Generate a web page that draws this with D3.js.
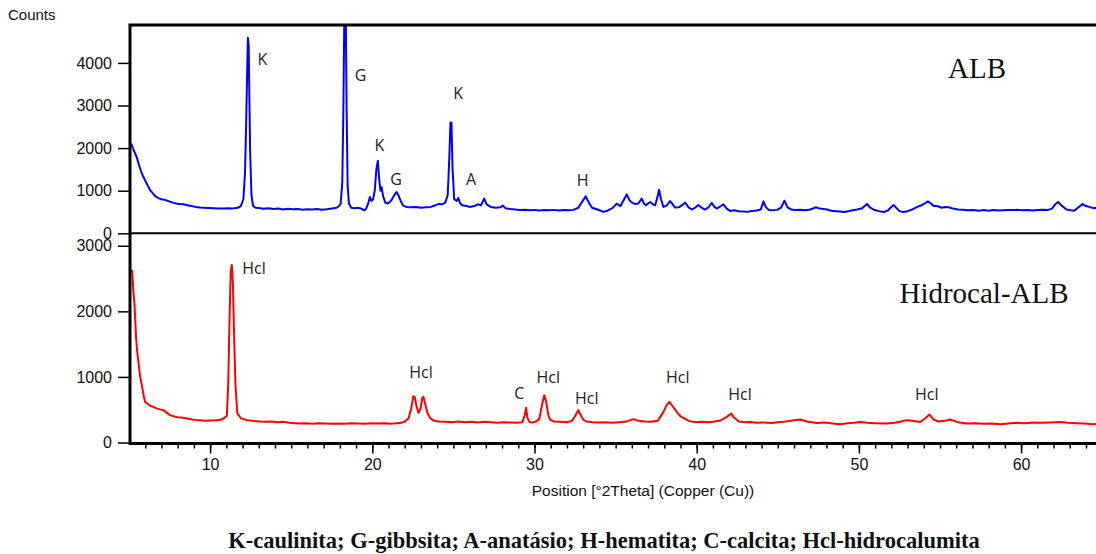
<!DOCTYPE html>
<html>
<head>
<meta charset="utf-8">
<script src="https://cdn.jsdelivr.net/npm/d3@7"></script>
<style>
  body { margin: 0; background: #fff; }
  svg { display: block; }
</style>
</head>
<body>
<svg id="chart"></svg>
<script>
// 2Theta / counts
const albPoints = [
  [5.00,2130],[5.08,2060],[5.15,2090],[5.25,1990],[5.35,1900],[5.48,1780],[5.6,1620],[5.75,1450],[5.89,1320],
  [6.05,1200],[6.2,1090],[6.3,1010],[6.45,950],[6.6,880],[6.71,850],[6.85,820],[7.0,800],[7.15,790],[7.33,770],
  [7.5,745],[7.7,720],[7.9,700],[8.1,690],[8.35,680],[8.6,660],[8.85,640],[9.1,620],[9.38,605],[9.6,600],
  [9.9,595],[10.2,590],[10.5,585],[10.8,580],[11.1,590],[11.42,585],[11.7,600],[11.9,640],[12.05,800],
  [12.15,1400],[12.22,2500],[12.28,3700],[12.33,4590],[12.38,4400],[12.42,3200],[12.47,1900],[12.55,900],
  [12.65,640],[12.8,600],[13.0,595],[13.3,575],[13.6,590],[13.9,570],[14.2,580],[14.5,560],[14.8,575],
  [15.1,565],[15.4,570],[15.7,555],[16.0,565],[16.3,560],[16.6,570],[16.9,555],[17.2,565],[17.5,580],
  [17.8,600],[17.95,640],[18.05,700],[18.15,1200],[18.22,3000],[18.28,5300],[18.36,5300],[18.42,2800],
  [18.48,1100],[18.56,700],[18.7,600],[18.9,590],[19.1,600],[19.3,585],[19.5,540],[19.6,560],[19.75,700],
  [19.85,850],[19.95,760],[20.05,800],[20.15,1000],[20.25,1500],[20.34,1705],[20.42,1300],[20.5,1000],
  [20.58,1080],[20.66,880],[20.8,720],[20.95,700],[21.1,740],[21.25,820],[21.4,920],[21.5,970],[21.6,900],
  [21.75,760],[21.9,650],[22.1,620],[22.4,610],[22.7,620],[23.0,600],[23.3,610],[23.6,620],[23.9,660],
  [24.1,690],[24.3,680],[24.5,720],[24.65,900],[24.75,1800],[24.82,2600],[24.88,2600],[24.95,1500],
  [25.05,800],[25.2,760],[25.3,830],[25.42,700],[25.6,650],[25.8,640],[26.0,620],[26.3,640],[26.5,680],
  [26.7,660],[26.9,814],[27.05,680],[27.3,620],[27.6,600],[27.9,610],[28.05,650],[28.2,590],[28.5,570],
  [28.8,560],[29.1,545],[29.4,555],[29.7,540],[30.0,550],[30.3,535],[30.6,545],[30.9,540],[31.2,550],
  [31.5,535],[31.8,545],[32.1,540],[32.4,550],[32.7,600],[32.95,750],[33.16,867],[33.35,720],[33.55,600],
  [33.8,570],[34.0,540],[34.25,503],[34.5,530],[34.8,590],[35.07,697],[35.3,640],[35.5,780],[35.69,914],
  [35.85,780],[36.0,721],[36.2,690],[36.4,700],[36.61,814],[36.75,700],[36.88,658],[37.0,700],[37.13,735],
  [37.3,680],[37.44,658],[37.58,850],[37.68,1023],[37.8,800],[37.95,619],[38.15,650],[38.36,758],[38.5,690],
  [38.67,604],[38.9,610],[39.1,660],[39.29,721],[39.5,610],[39.7,558],[39.9,600],[40.1,665],[40.3,600],
  [40.5,558],[40.7,600],[40.93,712],[41.1,620],[41.24,581],[41.45,630],[41.65,681],[41.85,580],[42.06,526],
  [42.3,540],[42.6,520],[42.9,510],[43.1,503],[43.4,525],[43.7,535],[43.95,560],[44.12,750],[44.25,620],
  [44.45,545],[44.7,540],[44.95,550],[45.2,600],[45.41,766],[45.6,610],[45.82,560],[46.1,545],[46.4,555],
  [46.7,540],[47.0,560],[47.34,610],[47.6,580],[47.8,570],[48.04,560],[48.3,530],[48.6,520],[48.85,510],
  [49.09,500],[49.35,520],[49.6,540],[49.9,560],[50.2,590],[50.5,690],[50.7,600],[50.97,545],[51.25,520],
  [51.55,500],[51.8,540],[51.95,600],[52.14,665],[52.35,580],[52.5,520],[52.73,500],[53.0,520],[53.3,560],
  [53.6,620],[53.9,665],[54.05,700],[54.25,750],[54.45,700],[54.6,640],[54.82,640],[55.1,600],[55.3,615],
  [55.54,610],[55.8,580],[56.1,560],[56.4,555],[56.7,540],[57.0,545],[57.41,530],[57.7,545],[58.0,530],
  [58.3,545],[58.6,535],[58.9,540],[59.2,545],[59.5,545],[59.8,550],[60.1,540],[60.4,545],[60.7,535],
  [61.0,545],[61.3,550],[61.63,545],[61.9,580],[62.1,680],[62.28,735],[62.5,650],[62.8,560],[63.05,540],
  [63.27,530],[63.5,600],[63.79,685],[64.0,640],[64.2,620],[64.44,590],[64.7,600],[65.0,590]
];

// 2Theta / counts
const hidrocalPoints = [
  [5.05,2600],[5.12,2620],[5.2,2615],[5.27,2300],[5.33,2147],[5.4,1800],[5.44,1588],[5.5,1400],[5.58,1231],
  [5.68,1020],[5.79,875],[5.9,720],[5.99,620],[6.15,590],[6.3,560],[6.5,544],[6.7,520],[6.9,505],[7.12,493],
  [7.3,460],[7.53,417],[7.75,400],[8.0,385],[8.35,376],[8.6,365],[8.9,350],[9.1,345],[9.38,341],[9.7,330],
  [10.0,335],[10.41,341],[10.7,350],[10.9,380],[11.03,406],[11.12,900],[11.19,1791],[11.27,2600],[11.34,2707],
  [11.41,2400],[11.48,1638],[11.56,900],[11.68,443],[11.9,370],[12.26,341],[12.6,330],[13.0,320],[13.4,315],
  [13.8,320],[14.2,310],[14.5,315],[14.9,300],[15.2,295],[15.55,290],[15.9,295],[16.3,285],[16.7,295],
  [17.1,290],[17.5,285],[17.9,290],[18.3,285],[18.7,295],[19.1,290],[19.5,285],[19.9,295],[20.3,290],
  [20.7,295],[21.1,285],[21.5,295],[21.8,300],[22.0,320],[22.23,366],[22.4,520],[22.53,707],[22.62,690],
  [22.72,560],[22.85,452],[22.98,520],[23.08,680],[23.15,697],[23.25,600],[23.4,450],[23.56,376],[23.8,330],
  [24.1,320],[24.5,315],[24.9,310],[25.3,320],[25.7,310],[26.1,315],[26.5,305],[26.9,315],[27.3,310],
  [27.7,300],[28.1,310],[28.5,305],[28.9,300],[29.25,310],[29.4,420],[29.48,529],[29.56,380],[29.7,310],
  [29.9,305],[30.1,320],[30.3,360],[30.45,560],[30.6,722],[30.72,620],[30.85,420],[30.96,350],[31.2,320],
  [31.6,315],[32.0,310],[32.3,330],[32.5,400],[32.7,493],[32.85,420],[33.0,350],[33.2,320],[33.6,310],
  [34.0,305],[34.4,310],[34.8,300],[35.2,310],[35.6,315],[36.1,356],[36.4,330],[36.8,320],[37.2,315],
  [37.6,330],[37.95,467],[38.15,570],[38.32,620],[38.5,560],[38.77,467],[39.0,400],[39.18,376],[39.5,330],
  [39.9,310],[40.3,315],[40.7,310],[41.1,320],[41.5,340],[41.86,391],[42.12,443],[42.3,380],[42.6,320],
  [43.0,310],[43.3,311],[43.7,300],[44.1,305],[44.63,299],[45.0,310],[45.5,320],[45.9,335],[46.37,351],
  [46.8,320],[47.4,299],[47.9,305],[48.4,290],[48.84,280],[49.3,295],[49.7,300],[50.07,311],[50.5,300],
  [51.0,295],[51.72,290],[52.2,300],[52.6,320],[52.95,341],[53.3,330],[53.77,311],[54.1,370],[54.35,427],
  [54.6,350],[54.9,320],[55.3,330],[55.62,351],[56.1,310],[56.65,290],[57.2,295],[57.7,285],[58.2,290],
  [58.7,280],[59.2,290],[59.7,300],[60.2,295],[60.74,305],[61.2,300],[61.8,305],[62.4,311],[62.9,300],
  [63.4,295],[63.9,290],[64.46,280],[65.0,285]
];

// phase labels: [text, 2Theta, counts]
const albPeaks = [
  ["K",13.22,4103],["G",19.28,3712],["K",20.43,2070],["G",21.46,1274],
  ["K",25.30,3283],["A",26.09,1274],["H",32.97,1251]
];
const hidrocalPeaks = [
  ["Hcl",12.71,2655],["Hcl",23.0,1077],["C",29.06,748],["Hcl",30.85,992],
  ["Hcl",33.22,671],["Hcl",38.83,1001],["Hcl",42.67,737],["Hcl",54.18,737]
];

const topTicks = [0,1000,2000,3000,4000];
const bottomTicks = [0,1000,2000,3000];
const xTicks = [10,20,30,40,50,60];

const width = 1096, height = 554;
const left = 130;

const svg = d3.select("#chart").attr("width", width).attr("height", height)
  .style("font-family", "'Liberation Sans', Arial, sans-serif");

const x = d3.scaleLinear().domain([5, 65]).range([129, 129 + 60 * 16.22]);
const yTop = d3.scaleLinear().domain([0, 4890]).range([233.3, 25]);
const yBot = d3.scaleLinear().domain([0, 3190]).range([442.5, 233.3]);

const defs = svg.append("defs");
defs.append("clipPath").attr("id", "clipTop").append("rect")
  .attr("x", left).attr("y", yTop.range()[1]).attr("width", width - left).attr("height", yTop.range()[0] - yTop.range()[1]);
defs.append("clipPath").attr("id", "clipBot").append("rect")
  .attr("x", left).attr("y", yBot.range()[1]).attr("width", width - left).attr("height", yBot.range()[0] - yBot.range()[1]);

// patterns
svg.append("path")
  .datum(albPoints)
  .attr("clip-path", "url(#clipTop)")
  .attr("fill", "none").attr("stroke", "#0000ff").attr("stroke-width", 2)
  .attr("stroke-linejoin", "round")
  .attr("d", d3.line().x(d => x(d[0])).y(d => yTop(d[1])));

svg.append("path")
  .datum(hidrocalPoints)
  .attr("clip-path", "url(#clipBot)")
  .attr("fill", "none").attr("stroke", "#ff0000").attr("stroke-width", 2)
  .attr("stroke-linejoin", "round")
  .attr("d", d3.line().x(d => x(d[0])).y(d => yBot(d[1])));

// y axes
function styleAxis(g) {
  g.select(".domain").remove();
  g.selectAll(".tick line").attr("stroke-width", 1.5);
  g.selectAll(".tick text").attr("font-size", 16).attr("fill", "#111")
    .attr("font-family", "'Liberation Sans', Arial, sans-serif");
}
svg.append("g").attr("transform", `translate(${left},0)`)
  .call(d3.axisLeft(yTop).tickValues(topTicks).tickFormat(d3.format("d")).tickSize(12).tickPadding(6))
  .call(styleAxis);
svg.append("g").attr("transform", `translate(${left},0)`)
  .call(d3.axisLeft(yBot).tickValues(bottomTicks).tickFormat(d3.format("d")).tickSize(12).tickPadding(6))
  .call(styleAxis);

// x axis
const xAxisY = 443.5;
svg.append("g").attr("transform", `translate(0,${xAxisY})`)
  .call(d3.axisBottom(x).tickValues(d3.range(6, 65)).tickSize(5).tickFormat(""))
  .call(g => g.select(".domain").remove())
  .call(g => g.selectAll(".tick line").attr("stroke-width", 1.5));
svg.append("g").attr("transform", `translate(0,${xAxisY})`)
  .call(d3.axisBottom(x).tickValues(xTicks).tickSize(10).tickPadding(5))
  .call(styleAxis);

// frame lines
const frame = svg.append("g").attr("stroke", "#000").attr("fill", "none");
frame.append("path").attr("stroke-width", 3)
  .attr("d", `M${width},${yTop.range()[1]}H${left}V${xAxisY}H${width}`);
frame.append("line").attr("stroke-width", 2)
  .attr("x1", left).attr("x2", width).attr("y1", yTop(0)).attr("y2", yTop(0));

// axis titles
svg.append("text").attr("x", 8).attr("y", 20)
  .attr("font-size", 15).attr("fill", "#111").text("Counts");
svg.append("text").attr("x", 643).attr("y", 496).attr("text-anchor", "middle")
  .attr("font-size", 15.5).attr("fill", "#111").text("Position [°2Theta] (Copper (Cu))");

// phase labels
const peakFont = "'Open Sans', 'Noto Sans', sans-serif";
svg.append("g").selectAll("text").data(albPeaks).join("text")
  .attr("x", d => x(d[1])).attr("y", d => yTop(d[2]))
  .attr("text-anchor", "middle").attr("dominant-baseline", "central")
  .attr("font-family", peakFont).attr("font-size", 16).attr("fill", "#222")
  .text(d => d[0]);
svg.append("g").selectAll("text").data(hidrocalPeaks).join("text")
  .attr("x", d => x(d[1])).attr("y", d => yBot(d[2]))
  .attr("text-anchor", "middle").attr("dominant-baseline", "central")
  .attr("font-family", peakFont).attr("font-size", 16).attr("fill", "#222")
  .text(d => d[0]);

// sample names
const serif = "'Liberation Serif', 'Times New Roman', serif";
svg.append("text").attr("x", 977).attr("y", 78).attr("text-anchor", "middle")
  .attr("font-family", serif).attr("font-size", 29).attr("fill", "#111").text("ALB");
svg.append("text").attr("x", 984).attr("y", 303).attr("text-anchor", "middle")
  .attr("font-family", serif).attr("font-size", 29).attr("fill", "#111").text("Hidrocal-ALB");

// caption
svg.append("text").attr("x", 604).attr("y", 548).attr("text-anchor", "middle")
  .attr("font-family", serif).attr("font-weight", "bold").attr("font-size", 22.5).attr("fill", "#111")
  .text("K-caulinita; G-gibbsita; A-anatásio; H-hematita; C-calcita; Hcl-hidrocalumita");
</script>
</body>
</html>
